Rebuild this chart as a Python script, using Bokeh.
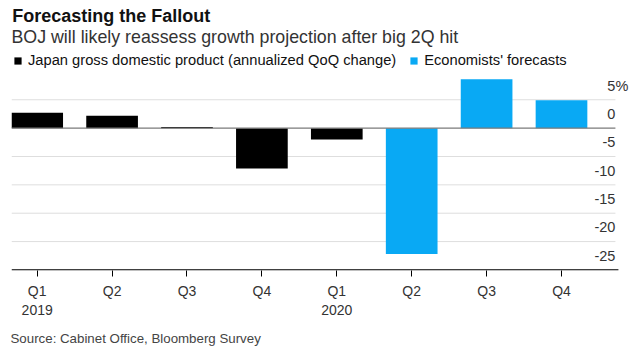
from bokeh.plotting import figure
from bokeh.models import (FixedTicker, Label, Legend, LegendItem, Range1d, Title)
from bokeh.core.properties import value
from bokeh.embed import file_html
from bokeh.resources import INLINE

# ---- data ----
quarters = ["Q1", "Q2", "Q3", "Q4", "Q1", "Q2", "Q3", "Q4"]
years = ["2019", "", "", "", "2020", "", "", ""]
gdp_actual = [2.7, 2.2, 0.2, -7.1, -2.0]          # Q1 2019 .. Q1 2020
forecast = [-22.2, 8.6, 4.9]                        # Q2 2020 .. Q4 2020
y_ticks = [5, 0, -5, -10, -15, -20, -25]
y_tick_labels = ["5", "0", "-5", "-10", "-15", "-20", "-25"]

FONT = "Liberation Sans"
BLACK = "#000000"
BLUE = "#09a9f4"

n = len(quarters)
x_all = list(range(n))
x_act = x_all[:len(gdp_actual)]
x_fc = x_all[len(gdp_actual):]

X0, X1 = -0.343, 7.988
GRID_END = 7.72
AXIS_END = 7.76
Y0 = -25.1

p = figure(width=635, height=356, output_backend="svg", toolbar_location=None,
           x_range=Range1d(X0, X1), y_range=Range1d(Y0, 22.5),
           y_axis_location=None, min_border_left=11, min_border_right=0,
           min_border_top=0, min_border_bottom=86, title=None)
p.outline_line_color = None
p.background_fill_color = "white"
p.border_fill_color = "white"
p.xgrid.visible = False
p.ygrid.visible = False

# grid lines (stop short of the right edge, labels sit above them)
grid_vals = [v for v in y_ticks if v not in (0, -25)]
p.segment(x0=[X0] * len(grid_vals), x1=[GRID_END] * len(grid_vals),
          y0=grid_vals, y1=grid_vals, line_color="#dedede", line_width=1)

# bars
r_act = p.vbar(x=x_act, top=gdp_actual, bottom=0, width=0.69,
               fill_color=BLACK, line_color=None)
r_fc = p.vbar(x=x_fc, top=forecast, bottom=0, width=0.69,
              fill_color=BLUE, line_color=None)

# zero line and baseline
p.segment(x0=[X0], x1=[GRID_END], y0=[0], y1=[0], line_color="#7a7a7a", line_width=1.2)
p.segment(x0=[X0], x1=[AXIS_END], y0=[y_ticks[-1]], y1=[y_ticks[-1]],
          line_color="#000000", line_width=1.2)

# y tick labels (right, above each gridline)
p.text(x=[GRID_END] * len(y_ticks), y=y_ticks, text=y_tick_labels,
       text_align="right", text_baseline="middle", y_offset=-14.2,
       text_font=value(FONT), text_font_size="14.5px", text_color="#333333")
p.text(x=[GRID_END], y=[y_ticks[0]], text=["%"],
       text_align="left", text_baseline="middle", y_offset=-14.2,
       text_font=value(FONT), text_font_size="14.5px", text_color="#333333")

# x axis
xa = p.xaxis[0]
xa.ticker = FixedTicker(ticks=x_all)
xa.major_label_overrides = {i: (q + ("\n" + y if y else "")) for i, (q, y) in enumerate(zip(quarters, years))}
xa.axis_line_color = None
xa.major_tick_line_color = "#000000"
xa.major_tick_in = 0
xa.major_tick_out = 6
xa.minor_tick_line_color = None
xa.major_label_text_font = FONT
xa.major_label_text_font_size = "14px"
xa.major_label_text_color = "#333333"
xa.major_label_standoff = 6

# legend
legend = Legend(items=[
    LegendItem(label="Japan gross domestic product (annualized QoQ change)", renderers=[r_act]),
    LegendItem(label="Economists' forecasts", renderers=[r_fc]),
], orientation="horizontal", location=(2, 202), glyph_width=9, glyph_height=9,
   label_standoff=6, spacing=13, padding=0, margin=0, border_line_color=None,
   background_fill_alpha=0, label_text_font=FONT, label_text_font_size="14.7px",
   label_text_color="#111111", label_height=9)
p.add_layout(legend, "center")

# title / subtitle (data units inside the top of the frame)
p.add_layout(Label(x=-0.334, y=19.7, text="Forecasting the Fallout", text_font=FONT,
                   text_font_size="18px", text_font_style="bold", text_color="#111111",
                   text_baseline="alphabetic"))
p.add_layout(Label(x=X0, y=16.0,
                   text="BOJ will likely reassess growth projection after big 2Q hit",
                   text_font=FONT, text_font_size="17.8px", text_color="#333333",
                   text_baseline="alphabetic"))

# source
p.add_layout(Title(text="Source: Cabinet Office, Bloomberg Survey", align="left", offset=-1,
                   text_font=FONT, text_font_size="13.3px", text_color="#444444",
                   text_font_style="normal", standoff=17), "below")

open("out.html", "w").write(file_html(p, INLINE))
